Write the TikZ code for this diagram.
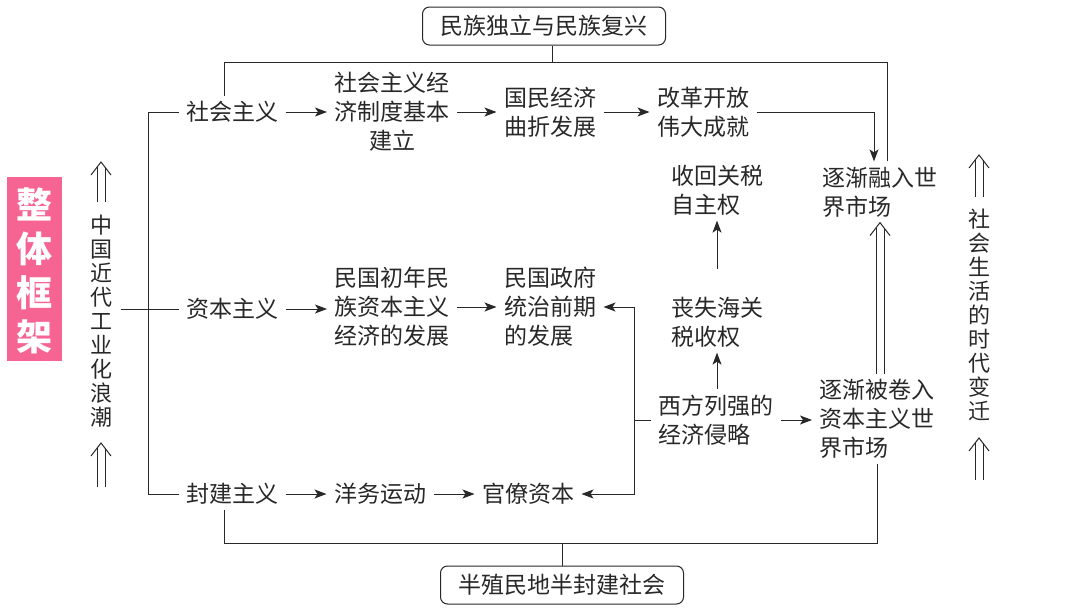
\documentclass[tikz,border=0pt]{standalone}
\usepackage{fontspec}
\setmainfont{Noto Sans CJK SC}
\usetikzlibrary{arrows.meta,positioning}
\definecolor{framepink}{RGB}{246,100,148}
\definecolor{ink}{RGB}{40,40,40}
\tikzset{
  txt/.style={font=\fontsize{23}{29}\selectfont, inner xsep=7pt, inner ysep=5pt, align=center},
  lft/.style={txt, align=left},
  goal/.style={txt, draw, rounded corners=7pt, minimum width=243pt, minimum height=38pt},
  side/.style={font=\fontsize{22}{24}\selectfont, align=center, inner sep=2pt},
  arr/.style={-{Stealth[length=12pt,width=9pt,inset=3pt]}},
  dbl/.style={double, double distance=7pt},
}

\begin{document}
\begin{tikzpicture}[x=1pt, y=-1pt, line width=1pt, color=ink]
    \useasboundingbox (0,0) rectangle (1080,608);
    \fill[framepink] (7,177) rectangle (62,361);
    \node[font=\fontsize{36}{44}\selectfont\bfseries, text=white, align=center] (frame) at (34.5,271) {整\\体\\框\\架};

    \node[side] (wave) at (101,321) {中\\国\\近\\代\\工\\业\\化\\浪\\潮};
    \node[side] (life) at (979,315) {社\\会\\生\\活\\的\\时\\代\\变\\迁};
    \draw[dbl] (101,202) -- (101,167);
    \draw (101,162) ++(-10,13) -- ++(10,-13) -- ++(10,13);
    \draw[dbl] (101,487) -- (101,448);
    \draw (101,443) ++(-10,13) -- ++(10,-13) -- ++(10,13);
    \draw[dbl] (979,197) -- (979,160);
    \draw (979,155) ++(-10,13) -- ++(10,-13) -- ++(10,13);
    \draw[dbl] (979,480) -- (979,443);
    \draw (979,438) ++(-10,13) -- ++(10,-13) -- ++(10,13);

    \node[goal] (top) at (544,26) {民族独立与民族复兴};
    \node[goal] (bottom) at (562,585) {半殖民地半封建社会};

    \node[txt] (soc) at (232,112) {社会主义};
    \node[txt] (econ) at (392,112) {社会主义经\\济制度基本\\建立};
    \node[txt] (twist) at (550,112) {国民经济\\曲折发展};
    \node[txt] (reform) at (703,112) {改革开放\\伟大成就};
    \node[lft] (regain) at (717,190) {收回关税\\自主权};
    \node[lft] (merge) at (880,192) {逐渐融入世\\界市场};

    \node[txt] (cap) at (232,309) {资本主义};
    \node[txt] (early) at (392,307) {民国初年民\\族资本主义\\经济的发展};
    \node[lft] (gov) at (550,307) {民国政府\\统治前期\\的发展};
    \node[lft] (lose) at (717,322) {丧失海关\\税收权};
    \node[lft] (invade) at (716,420) {西方列强的\\经济侵略};
    \node[lft] (drawn) at (877,419) {逐渐被卷入\\资本主义世\\界市场};

    \node[txt] (feud) at (232,494) {封建主义};
    \node[txt] (yangwu) at (380,494) {洋务运动};
    \node[txt] (guan) at (528,494) {官僚资本};

    \coordinate (topbar) at (0,62);
    \coordinate (botbar) at (0,543);
    \coordinate (spine) at (148,0);
    \coordinate (split) at (634,0);

    \draw ([xshift=8pt]top.south) -- ([xshift=8pt]top.south |- topbar);
    \draw ([xshift=-8pt]soc.north) -- ([xshift=-8pt]soc.north |- topbar) -- ([xshift=7pt]merge.north |- topbar) -- ([xshift=7pt]merge.north);
    \draw (bottom.north) -- (bottom.north |- botbar);
    \draw ([xshift=-8pt]feud.south) -- ([xshift=-8pt]feud.south |- botbar) -- (drawn.south |- botbar) -- (drawn.south);

    \draw (soc.west) -| (spine |- feud.west) -- (feud.west);
    \draw ([xshift=6pt]wave.east |- cap.west) -- (cap.west);

    \draw[arr] (soc.east) -- (econ.west);
    \draw[arr] (econ.east) -- (twist.west);
    \draw[arr] (twist.east) -- (reform.west);
    \draw[arr] (reform.east) -| ([xshift=-6pt]merge.north);
    \draw[arr] (cap.east) -- (cap.east -| early.west);
    \draw[arr] (early.east) -- (gov.west);
    \draw[arr] (feud.east) -- (yangwu.west);
    \draw[arr] (yangwu.east) -- (guan.west);

    \draw (invade.west) -- (split |- invade.west);
    \draw[arr] (split |- invade.west) |- (gov.east);
    \draw[arr] (split |- invade.west) |- (guan.east);
    \draw[arr] (lose.south |- invade.north) -- (lose.south);
    \draw[arr, shorten <=22pt] (lose.north) -- (regain.south);
    \draw[arr] (invade.east) -- (invade.east -| drawn.west);
    \draw[dbl] (drawn.north -| merge.south) -- ([yshift=-5pt]merge.south);
    \draw (merge.south) ++(-10,13) -- ++(10,-13) -- ++(10,13);
\end{tikzpicture}
\end{document}
